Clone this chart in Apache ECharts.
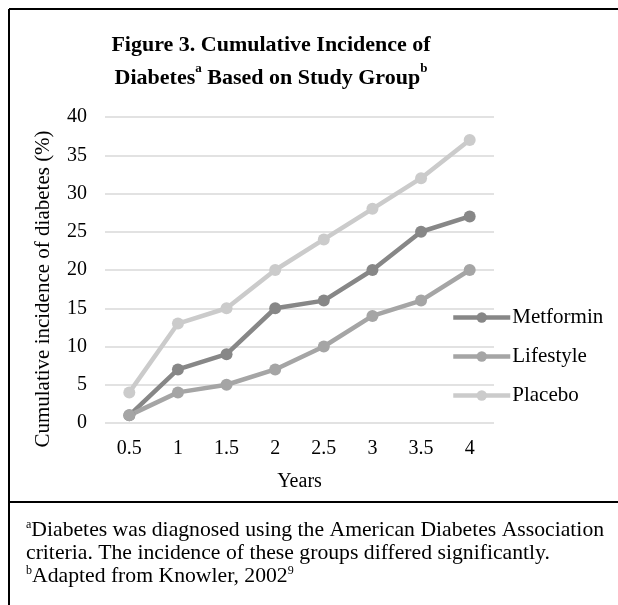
<!DOCTYPE html>
<html>
<head>
<meta charset="utf-8">
<script src="https://cdn.jsdelivr.net/npm/echarts@6/dist/echarts.min.js"></script>
<style>
    html, body { margin: 0; padding: 0; background: #fff; }
    #chart { width: 618px; height: 605px; }
</style>
</head>
<body>
<div id="chart"></div>
<script>
    // 数据
    const years = ['0.5', '1', '1.5', '2', '2.5', '3', '3.5', '4']
    const metformin = [1, 7, 9, 15, 16, 20, 25, 27]
    const lifestyle = [1, 4, 5, 7, 10, 14, 16, 20]
    const placebo = [4, 13, 15, 20, 24, 28, 32, 37]

    const serif = 'Liberation Serif'
    const chart = echarts.init(document.getElementById('chart'))

    function lineSeries(name, data, color) {
        return {
            type: 'line',
            name: name,
            data: data,
            symbol: 'circle',
            symbolSize: 12,
            lineStyle: { color: color, width: 4.5 },
            itemStyle: { color: color },
            emphasis: { disabled: true }
        }
    }

    const option = {
        backgroundColor: '#fff',
        animation: false,
        textStyle: { fontFamily: serif },
        title: {
            left: 266,
            top: 24,
            textAlign: 'center',
            text: '{b|Figure 3. Cumulative Incidence of}\n{b|Diabetes}{s|a}{b| Based on Study Group}{s2|b}',
            textStyle: {
                rich: {
                    b: { fontFamily: serif, fontWeight: 'bold', fontSize: 22, color: '#000', lineHeight: 33 },
                    s: { fontFamily: serif, fontWeight: 'bold', fontSize: 13, color: '#000', verticalAlign: 'top', lineHeight: 33 },
                    s2: { fontFamily: serif, fontSize: 13, color: '#000', verticalAlign: 'top', lineHeight: 33 }
                }
            }
        },
        legend: {
            orient: 'vertical',
            left: 451,
            top: 307,
            padding: 0,
            itemWidth: 57,
            itemHeight: 13,
            itemGap: 18,
            data: ['Metformin', 'Lifestyle', 'Placebo'],
            lineStyle: { width: 4.5 },
            textStyle: { fontFamily: serif, fontSize: 21, color: '#000', padding: [0, 0, 0, -3] }
        },
        grid: {
            left: 105,
            right: 124,
            top: 117,
            bottom: 182
        },
        xAxis: {
            type: 'category',
            data: years,
            name: 'Years',
            nameLocation: 'middle',
            nameGap: 49,
            nameTextStyle: { fontFamily: serif, fontSize: 20, color: '#000' },
            axisLine: { show: false },
            axisTick: { show: false },
            axisLabel: { fontFamily: serif, fontSize: 20, color: '#000', margin: 16 }
        },
        yAxis: {
            type: 'value',
            min: 0,
            max: 40,
            interval: 5,
            axisLine: { show: false },
            axisTick: { show: false },
            axisLabel: { fontFamily: serif, fontSize: 20, color: '#000', margin: 18 },
            splitLine: { lineStyle: { color: '#d9d9d9', width: 1.5 } }
        },
        graphic: [
            { type: 'line', shape: { x1: 9, y1: 9, x2: 618, y2: 9 }, style: { stroke: '#000', lineWidth: 2 } },
            { type: 'line', shape: { x1: 9, y1: 9, x2: 9, y2: 605 }, style: { stroke: '#000', lineWidth: 2 } },
            { type: 'line', shape: { x1: 9, y1: 502, x2: 618, y2: 502 }, style: { stroke: '#000', lineWidth: 2 } },
            {
                // 纵轴标题
                type: 'text',
                x: 43,
                y: 289,
                rotation: Math.PI / 2,
                style: {
                    text: 'Cumulative incidence of diabetes (%)',
                    fontFamily: serif,
                    fontSize: 21,
                    fill: '#000',
                    align: 'center',
                    verticalAlign: 'middle'
                }
            },
            {
                // 脚注
                type: 'text',
                left: 26,
                top: 519,
                style: {
                    text: '{s|a}{t|Diabetes was diagnosed using the American Diabetes Association}\n{t|criteria. The incidence of these groups differed significantly.}\n{s|b}{t|Adapted from Knowler, 2002}{s|9}',
                    rich: {
                        t: { fontFamily: serif, fontSize: 21.7, fill: '#000', lineHeight: 23 },
                        s: { fontFamily: serif, fontSize: 12, fill: '#000', verticalAlign: 'top', lineHeight: 23 }
                    }
                }
            }
        ],
        series: [
            lineSeries('Metformin', metformin, '#878787'),
            lineSeries('Lifestyle', lifestyle, '#a5a5a5'),
            lineSeries('Placebo', placebo, '#cbcbcb')
        ]
    }

    chart.setOption(option)
    window.addEventListener('resize', () => {
        chart.resize()
    })
</script>
</body>
</html>
